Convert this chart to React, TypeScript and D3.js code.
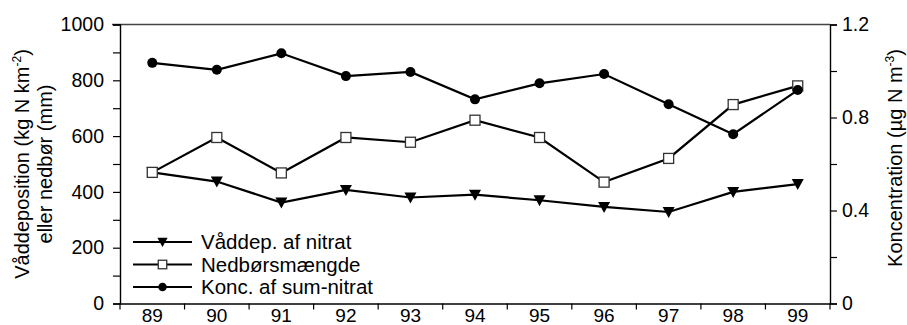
import React, { useEffect, useRef } from 'react';
import * as d3 from 'd3';

const years = ['89', '90', '91', '92', '93', '94', '95', '96', '97', '98', '99'];
const wetDep = [470, 437, 362, 407, 380, 390, 370, 346, 328, 400, 428];
const precip = [470, 595, 468, 595, 578, 657, 595, 435, 520, 713, 780];
const conc = [1.035, 1.005, 1.076, 0.978, 0.996, 0.878, 0.947, 0.987, 0.857, 0.728, 0.918];
const leftTicks = [0, 200, 400, 600, 800, 1000];
const rightTicks = [0, 0.4, 0.8, 1.2];
const legendLabels = ['Våddep. af nitrat', 'Nedbørsmængde', 'Konc. af sum-nitrat'];

const App = () => {
  const ref = useRef<SVGSVGElement>(null);

  useEffect(() => {
    const svg = d3.select(ref.current);
    svg.selectAll('*').remove();
    const left = 120, right = 830, top = 24.5, bottom = 303.5;
    const font = 'Liberation Sans, Arial, sans-serif';

    const x = d3.scaleBand().domain(years).range([left, right]);
    const yL = d3.scaleLinear().domain([0, 1000]).range([bottom, top]);
    const yR = d3.scaleLinear().domain([0, 1.2]).range([bottom, top]);

    // frame top line
    svg.append('line')
      .attr('x1', left - 8).attr('x2', right).attr('y1', top).attr('y2', top)
      .attr('stroke', '#444').attr('stroke-width', 1.5);

    // left axis
    const gl = svg.append('g').attr('transform', 'translate(' + left + ',0)')
      .call(d3.axisLeft(yL).tickValues(d3.range(0, 1001, 100)).tickSize(7).tickPadding(9)
        .tickFormat((d: any) => (leftTicks.includes(d) ? String(d) : '')));
    // right axis
    const gr = svg.append('g').attr('transform', 'translate(' + right + ',0)')
      .call(d3.axisRight(yR).tickValues(d3.range(0, 7).map((i) => i * 0.2)).tickSize(7).tickPadding(5)
        .tickFormat((d: any, i: number) => (i % 2 === 0 ? String(rightTicks[i / 2]) : '')));
    // bottom axis
    const gb = svg.append('g').attr('transform', 'translate(0,' + bottom + ')')
      .call(d3.axisBottom(x).tickSize(0).tickPadding(5));
    gb.selectAll('.tick')
      .append('line')
      .attr('x1', -x.bandwidth() / 2).attr('x2', -x.bandwidth() / 2)
      .attr('y1', 0).attr('y2', 6);
    gb.append('line')
      .attr('x1', right).attr('x2', right).attr('y1', 0).attr('y2', 6);

    [gl, gr, gb].forEach((g) => {
      g.selectAll('.domain').attr('stroke', '#000').attr('stroke-width', 1.4);
      g.selectAll('text').attr('font-family', font).attr('font-size', 19.5).attr('fill', '#000');
      g.selectAll('line').attr('stroke', '#000').attr('stroke-width', 1.2);
    });
    gb.selectAll('text').attr('dy', '0.72em').attr('font-size', 19);

    // axis titles
    const lt = svg.append('text')
      .attr('transform', 'translate(29,164) rotate(-90)')
      .attr('text-anchor', 'middle').attr('font-family', font).attr('font-size', 20);
    lt.append('tspan').attr('x', 0).attr('dy', 0).text('Våddeposition (kg N km');
    lt.append('tspan').attr('dy', -8).attr('font-size', 12).text('-2');
    lt.append('tspan').attr('dy', 8).text(')');
    lt.append('tspan').attr('x', 0).attr('dy', 23).text('eller nedbør (mm)');

    const rt = svg.append('text')
      .attr('transform', 'translate(902,158) rotate(-90)')
      .attr('text-anchor', 'middle').attr('font-family', font).attr('font-size', 20);
    rt.append('tspan').text('Koncentration (µg N m');
    rt.append('tspan').attr('dy', -8).attr('font-size', 12).text('-3');
    rt.append('tspan').attr('dy', 8).text(')');

    const cx = (i: number) => (x(years[i]) as number) + x.bandwidth() / 2;
    const series = [
      { vals: wetDep, y: yL, type: 'tri' },
      { vals: precip, y: yL, type: 'sq' },
      { vals: conc, y: yR, type: 'circ' },
    ];

    const drawMarker = (g: any, type: string, px: number, py: number, s: number) => {
      if (type === 'tri') {
        g.append('path')
          .attr('d', 'M' + (px - 6 * s) + ',' + (py - 5 * s) + 'L' + (px + 6 * s) + ',' + (py - 5 * s) + 'L' + px + ',' + (py + 6 * s) + 'Z')
          .attr('fill', '#000');
      } else if (type === 'sq') {
        g.append('rect')
          .attr('x', px - 5 * s).attr('y', py - 5 * s).attr('width', 10 * s).attr('height', 10 * s)
          .attr('fill', '#fff').attr('stroke', '#333').attr('stroke-width', 1.3);
      } else {
        g.append('circle').attr('cx', px).attr('cy', py).attr('r', 5 * s).attr('fill', '#000');
      }
    };

    series.forEach((s) => {
      const line = d3.line<number>().x((d, i) => cx(i)).y((d) => s.y(d));
      svg.append('path').datum(s.vals).attr('d', line)
        .attr('fill', 'none').attr('stroke', '#000').attr('stroke-width', 2.2);
    });
    series.forEach((s) => {
      const g = svg.append('g');
      s.vals.forEach((v, i) => drawMarker(g, s.type, cx(i), s.y(v), 1));
    });

    // legend
    const lg = svg.append('g');
    legendLabels.forEach((lab, i) => {
      const ly = 242 + i * 22.5;
      lg.append('line').attr('x1', 133).attr('x2', 192).attr('y1', ly).attr('y2', ly)
        .attr('stroke', '#000').attr('stroke-width', 2.2);
      drawMarker(lg, series[i].type, 162.5, ly, 0.85);
      lg.append('text').attr('x', 201).attr('y', ly).attr('dy', '0.35em')
        .attr('font-family', font).attr('font-size', 20.5).text(lab);
    });
  }, []);

  return <svg ref={ref} width={907} height={325} style={{ position: 'absolute', left: 0, top: 0, background: '#fff' }} />;
};

export default App;
